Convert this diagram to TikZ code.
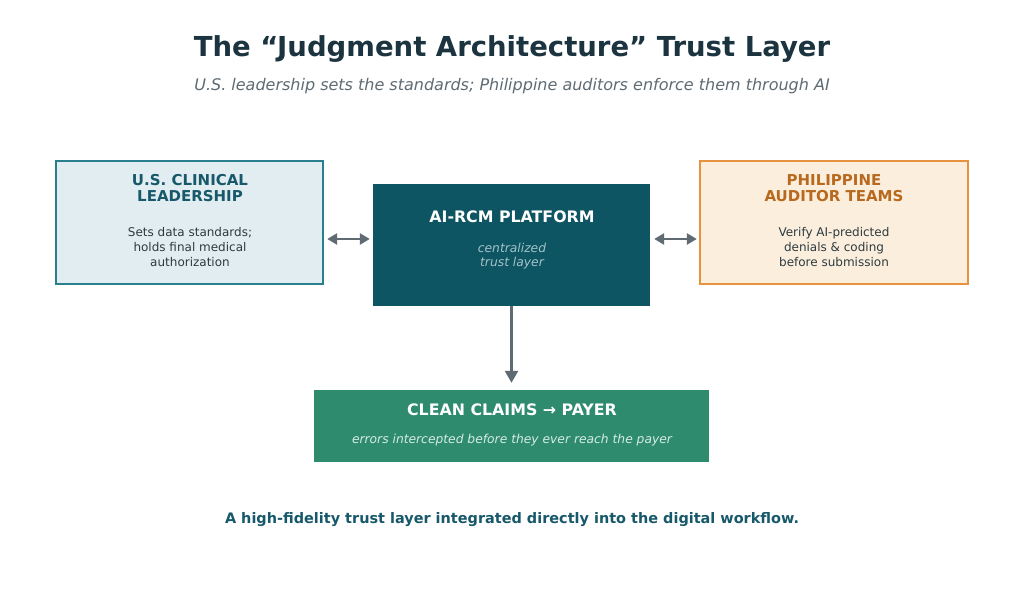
\documentclass[tikz,border=0pt]{standalone}
\usepackage{fontspec}
\setmainfont{DejaVu Sans}
\usetikzlibrary{arrows.meta}
\definecolor{titlec}{HTML}{1B3440}
\definecolor{subc}{HTML}{5F6B73}
\definecolor{teal}{HTML}{17586A}
\definecolor{lfill}{HTML}{E1EDF1}
\definecolor{lborder}{HTML}{2A7F8F}
\definecolor{cfill}{HTML}{0E5563}
\definecolor{rfill}{HTML}{FBEEDD}
\definecolor{rborder}{HTML}{E6933F}
\definecolor{rtext}{HTML}{B8691E}
\definecolor{bodyc}{HTML}{2D3B40}
\definecolor{gfill}{HTML}{2E8B6E}
\definecolor{arrc}{HTML}{5F6B73}
\definecolor{citc}{HTML}{A3C2C8}
\definecolor{gitc}{HTML}{D6ECE4}
\tikzset{
  box/.style={draw, line width=2pt, inner sep=0pt},
  flat/.style={inner sep=0pt},
  hd/.style={font=\bfseries\fontsize{15}{16.5}\selectfont, align=center},
  hdb/.style={font=\bfseries\fontsize{15.8}{17}\selectfont, align=center},
  bd/.style={font=\fontsize{12}{15}\selectfont, align=center, text=bodyc},
  it/.style={font=\itshape\fontsize{12.3}{14.5}\selectfont, align=center},
  conn/.style={draw=arrc, line width=2.5pt, -{Triangle[length=12pt,width=13pt]}},
  dconn/.style={draw=arrc, line width=2.5pt, {Triangle[length=10pt,width=11pt]}-{Triangle[length=10pt,width=11pt]}}
}
\begin{document}
\begin{tikzpicture}[x=1pt,y=-1pt]
\useasboundingbox[fill=white] (0,0) rectangle (1024,591);
\node[font=\bfseries\fontsize{27.5}{30}\selectfont, text=titlec] (title) at (512,49) {The “Judgment Architecture” Trust Layer};
\node[font=\itshape\fontsize{16}{19}\selectfont, text=subc] (sub) at (512,86) {U.S. leadership sets the standards; Philippine auditors enforce them through AI};
% boxes
\path[box, draw=lborder, fill=lfill] (56,161) rectangle (323,284);
\node[flat] (L) at (189.5,222.5) [minimum width=267pt, minimum height=123pt] {};
\path[fill=cfill] (373,184) rectangle (650,306);
\node[flat] (C) at (511.5,245) [minimum width=277pt, minimum height=122pt] {};
\path[box, draw=rborder, fill=rfill] (700,161) rectangle (968,284);
\node[flat] (R) at (834,222.5) [minimum width=268pt, minimum height=123pt] {};
\path[fill=gfill] (314,390) rectangle (709,462);
\node[flat] (B) at (511.5,426) [minimum width=395pt, minimum height=72pt] {};
% texts
\node[hd, text=teal] (Lh) at (190,188) {U.S. CLINICAL\\LEADERSHIP};
\node[bd] (Lb) at (190,247) {Sets data standards;\\holds final medical\\authorization};
\node[hdb, text=white] (Ch) at (512,217) {AI-RCM PLATFORM};
\node[it, text=citc] (Cb) at (512,256) {centralized\\trust layer};
\node[hd, text=rtext] (Rh) at (834,188) {PHILIPPINE\\AUDITOR TEAMS};
\node[bd] (Rb) at (834,247) {Verify AI-predicted\\denials \& coding\\before submission};
\node[hdb, text=white] (Bh) at (512,410) {CLEAN CLAIMS → PAYER};
\node[it, text=gitc] (Bb) at (512,440) {errors intercepted before they ever reach the payer};
\node[font=\bfseries\fontsize{14.45}{16}\selectfont, text=teal] (foot) at (512,520) {A high-fidelity trust layer integrated directly into the digital workflow.};
% connectors
\draw[dconn] ([xshift=4pt]L.east|-0,239) -- ([xshift=-3pt]C.west|-0,239);
\draw[dconn] ([xshift=4pt]C.east|-0,239) -- ([xshift=-3pt]R.west|-0,239);
\draw[conn] (C.south) -- ([yshift=7pt]B.north);
\end{tikzpicture}
\end{document}
